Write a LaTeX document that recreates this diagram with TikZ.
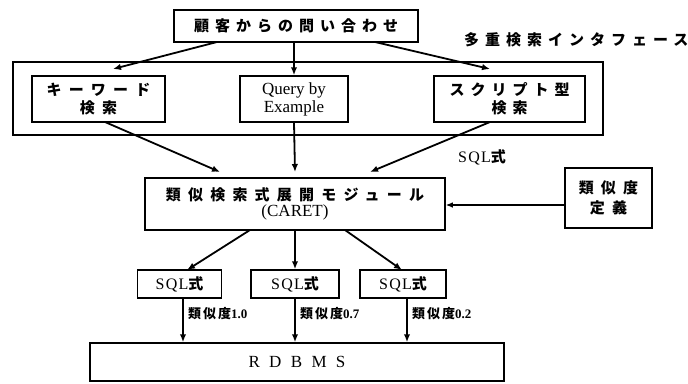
\documentclass[tikz,border=0pt]{standalone}
\usepackage{fontspec}
\setmainfont{Liberation Serif}
\newfontfamily\jpn{Noto Sans CJK JP}
\newfontfamily\jps{Noto Sans CJK JP}[LetterSpace=15]
\newfontfamily\jp{Noto Sans CJK JP}[LetterSpace=40]
\newfontfamily\jpw{Noto Sans CJK JP}[LetterSpace=48]
\newfontfamily\rmw{Liberation Serif}[LetterSpace=55]
\newfontfamily\rms{Liberation Serif}[LetterSpace=8]
\usetikzlibrary{arrows.meta}
\tikzset{
  box/.style={draw, line width=1.5pt, align=center, inner sep=0pt},
  arr/.style={line width=1.8pt, -{Latex[length=8pt,width=6.5pt]}},
  thin arr/.style={line width=1.2pt, -{Latex[length=7pt,width=5.5pt]}},
  sqltxt/.style={font=\fontsize{16}{18}\selectfont\rms},
  simlbl/.style={font=\fontsize{13}{14}\selectfont\bfseries, right=1pt},
}
\newcommand\sqlj{SQL{\fontsize{15}{18}\selectfont\jpn\bfseries 式}}
\newcommand\simj{{\jps 類似度}}
\begin{document}
\begin{tikzpicture}[x=1pt,y=-1pt]
\useasboundingbox (0,0) rectangle (688,383);
% top
\node[box, minimum width=244pt, minimum height=32pt, font=\fontsize{15}{18}\selectfont\jp\bfseries] (top) at (296,26) {顧客からの問い合わせ};
\node[anchor=east, font=\fontsize{15}{18}\selectfont\jp\bfseries] (lbl) at (692,40) {多重検索インタフェース};
% frame
\node[box, minimum width=590pt, minimum height=73pt] (frame) at (308,98.5) {};
\node[box, minimum width=133pt, minimum height=46pt, font=\fontsize{15}{18}\selectfont\jpw\bfseries] (kw) at (98.5,99) {キーワード\\検索};
\node[box, minimum width=108pt, minimum height=46pt, font=\fontsize{17}{18}\selectfont] (qbe) at (294,99) {Query by\\Example};
\node[box, minimum width=151pt, minimum height=46pt, font=\fontsize{15}{18}\selectfont\jp\bfseries] (scr) at (509.5,99) {スクリプト型\\検索};
% caret
\node[box, minimum width=300pt, minimum height=52pt] (caret) at (295,204)
  {{\fontsize{15}{18}\selectfont\jpw\bfseries 類似検索式展開モジュール}\\[1pt]{\fontsize{17}{18}\selectfont (CARET)}};
\node[box, minimum width=87pt, minimum height=60pt, font=\fontsize{15}{20}\selectfont\jpw\bfseries] (def) at (608.5,198) {類似度\\定義};
\node[sqltxt] (sqllbl) at (482,157) {\sqlj};
% sql boxes
\node[box, sqltxt, minimum width=84pt, minimum height=28pt] (s1) at (179.5,284) {\sqlj};
\node[box, sqltxt, minimum width=88pt, minimum height=28pt] (s2) at (295,284) {\sqlj};
\node[box, sqltxt, minimum width=86pt, minimum height=28pt] (s3) at (403,284) {\sqlj};
% rdbms
\node[box, minimum width=414pt, minimum height=38pt, font=\fontsize{17}{18}\selectfont\rmw] (db) at (297,362) {RDBMS};
% coordinates
\coordinate (t1) at (217,42); \coordinate (k1) at (113,69);
\coordinate (t3) at (375,42); \coordinate (k3) at (490,69);
\coordinate (kb) at (105,122); \coordinate (c1) at (220,172);
\coordinate (sb) at (490,122); \coordinate (c3) at (370,172);
\coordinate (cb1) at (250,230); \coordinate (cb3) at (345,230);
% arrows
\draw[arr] (t1) -- (k1);
\draw[arr] (top.south -| qbe.north) -- (qbe.north);
\draw[arr] (t3) -- (k3);
\draw[arr] (kb) -- (c1);
\draw[arr] (qbe.south) -- (295,172);
\draw[arr] (sb) -- (c3);
\draw[thin arr] (def.west |- 0,205) -- (caret.east |- 0,205);
\draw[arr] (cb1) -- (187,270);
\draw[arr] (caret.south -| s2.north) -- (s2.north);
\draw[arr] (cb3) -- (402,270);
\draw[arr] (s1.south -| 183,0) -- (db.north -| 183,0) node[pos=0.35, simlbl] {\simj 1.0};
\draw[arr] (s2.south -| 295,0) -- (db.north -| 295,0) node[pos=0.35, simlbl] {\simj 0.7};
\draw[arr] (s3.south -| 407,0) -- (db.north -| 407,0) node[pos=0.35, simlbl] {\simj 0.2};
\end{tikzpicture}
\end{document}
